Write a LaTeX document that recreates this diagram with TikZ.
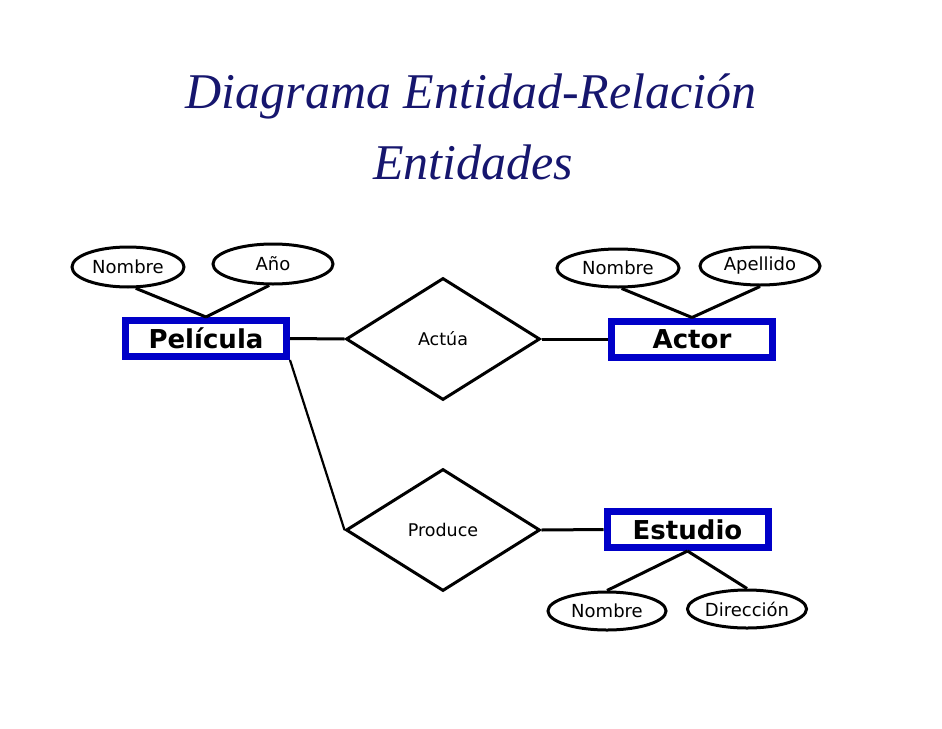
\documentclass[tikz,border=0pt]{standalone}
\usepackage{fontspec}
\setmainfont{DejaVu Sans}
\newfontfamily\titlefont{Liberation Serif}
\usetikzlibrary{shapes.geometric}
\definecolor{azulbox}{RGB}{0,0,200}
\definecolor{azultitulo}{RGB}{22,22,110}

\begin{document}
\begin{tikzpicture}[x=1pt,y=-1pt,
    entidad/.style={draw=azulbox,line width=7pt,fill=white,inner sep=0pt,
        minimum width=161pt,minimum height=36pt,font=\fontsize{26}{30}\selectfont\bfseries},
    atributo/.style={draw,ellipse,line width=3pt,inner sep=0pt,
        font=\fontsize{18}{21}\selectfont},
    relacion/.style={draw,diamond,line width=3pt,inner sep=0pt,
        minimum width=194pt,minimum height=122pt,font=\fontsize{17.5}{20}\selectfont},
    union/.style={line width=3pt}]
    % margenes de la diapositiva
    \useasboundingbox (0,0) rectangle (942,728);

    % titulo
    \node[font=\titlefont\itshape\fontsize{50}{54}\selectfont,text=azultitulo] (titulo1) at (471,96) {Diagrama Entidad-Relación};
    \node[font=\titlefont\itshape\fontsize{50}{54}\selectfont,text=azultitulo] (titulo2) at (473,162) {Entidades};

    % entidades
    \node[entidad] (pelicula) at (206,338.5) {Película};
    \node[entidad] (actor) at (692,339) {Actor};
    \node[entidad] (estudio) at (687.5,529.5) {Estudio};

    % relaciones
    \node[relacion] (actua) at (443,339) {Actúa};
    \node[relacion] (produce) at (443,530) {Produce};

    % atributos
    \node[atributo,minimum width=112pt,minimum height=40pt] (nombrep) at (128,267) {Nombre};
    \node[atributo,minimum width=120pt,minimum height=40pt] (anio) at (273,264) {Año};
    \node[atributo,minimum width=122pt,minimum height=38pt] (nombrea) at (618,268) {Nombre};
    \node[atributo,minimum width=120pt,minimum height=38pt] (apellido) at (760,266) {Apellido};
    \node[atributo,minimum width=118pt,minimum height=38pt] (nombree) at (607,611) {Nombre};
    \node[atributo,minimum width=118pt,minimum height=38pt] (direccion) at (747,609) {Dirección};

    % uniones
    \draw[union] (nombrep.-70) -- (pelicula.north);
    \draw[union] (anio.-100) -- (pelicula.north);
    \draw[union] (nombrea.-80) -- (actor.north);
    \draw[union] (apellido.-90) -- (actor.north);
    \draw[union] (nombree.north) -- (estudio.south);
    \draw[union] (direccion.north) -- (estudio.south);

    \draw[union] (pelicula.east) -- (actua.west);
    \draw[union] (actua.east) -- (actor.west);
    \draw[line width=2.2pt] (pelicula.south east) -- (produce.west);
    \draw[union] (produce.east) -- (estudio.west);

\end{tikzpicture}
\end{document}
